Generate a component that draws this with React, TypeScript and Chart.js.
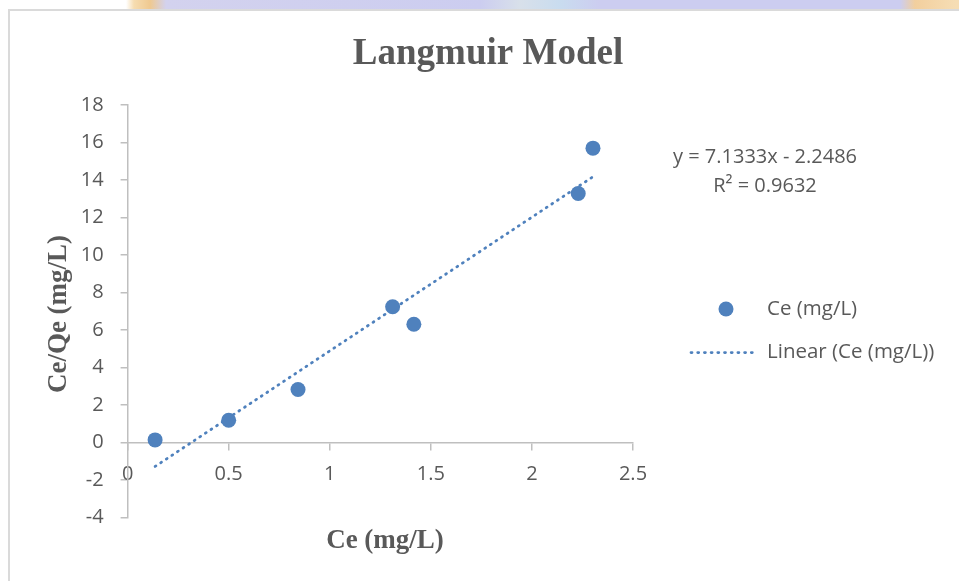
import React, { useEffect, useRef } from "react";
import { Chart, registerables } from "chart.js";

Chart.register(...registerables);

// ---- data ----
const TITLE = "Langmuir Model";
const X_TITLE = "Ce (mg/L)";
const Y_TITLE = "Ce/Qe (mg/L)";
const SERIES_NAME = "Ce (mg/L)";
const TREND_NAME = "Linear (Ce (mg/L))";

const CE = [0.136, 0.5, 0.843, 1.311, 1.416, 2.229, 2.302];
const CE_QE = [0.14, 1.19, 2.83, 7.24, 6.31, 13.28, 15.7];

// trendline as printed on the chart
const SLOPE = 7.1333;
const INTERCEPT = -2.2486;
const R2 = "0.9632";

const X_TICKS = [0, 0.5, 1, 1.5, 2, 2.5];
const Y_TICKS = [-4, -2, 0, 2, 4, 6, 8, 10, 12, 14, 16, 18];

// ---- styles ----
const BLUE = "#4f81bd";
const TEXT = "#595959";
const AXIS = "#bfbfbf";
const SANS = "'Open Sans', 'Noto Sans', sans-serif";
const SERIF = "'Liberation Serif', 'DejaVu Serif', serif";

const W = 959;
const H = 581;

const textPlugin = {
  id: "excelText",
  afterDraw(chart: any) {
    const ctx = chart.ctx as CanvasRenderingContext2D;
    const ds = chart.data.datasets;
    ctx.save();
    ctx.fillStyle = TEXT;

    // title
    ctx.font = `bold 37px ${SERIF}`;
    ctx.textAlign = "center";
    ctx.textBaseline = "alphabetic";
    ctx.fillText(TITLE, 488, 64);

    // x axis title
    ctx.font = `bold 27px ${SERIF}`;
    ctx.fillText(X_TITLE, 385, 548);

    // y axis title
    ctx.save();
    ctx.translate(66, 314);
    ctx.rotate(-Math.PI / 2);
    ctx.fillText(Y_TITLE, 0, 0);
    ctx.restore();

    // trendline equation
    ctx.font = `20px ${SANS}`;
    ctx.textBaseline = "middle";
    const sign = INTERCEPT < 0 ? "-" : "+";
    ctx.fillText(`y = ${SLOPE}x ${sign} ${Math.abs(INTERCEPT)}`, 765, 157);
    ctx.fillText(`R\u00B2 = ${R2}`, 765, 186);

    // legend
    ctx.textAlign = "left";
    ctx.font = `20.5px ${SANS}`;
    ctx.fillStyle = BLUE;
    ctx.beginPath();
    ctx.arc(726, 309, 7.5, 0, Math.PI * 2);
    ctx.fill();
    ctx.fillStyle = TEXT;
    ctx.fillText(ds[0].label, 767, 309);

    ctx.strokeStyle = BLUE;
    ctx.lineWidth = 2.75;
    ctx.lineCap = "round";
    ctx.setLineDash([1, 5.7]);
    ctx.beginPath();
    ctx.moveTo(691, 352.5);
    ctx.lineTo(757, 352.5);
    ctx.stroke();
    ctx.setLineDash([]);
    ctx.fillText(ds[1].label, 767, 352);

    ctx.restore();
  },
};

export default function App() {
  const ref = useRef<HTMLCanvasElement | null>(null);

  useEffect(() => {
    if (!ref.current) return;
    const points = CE.map((x, i) => ({ x, y: CE_QE[i] }));
    const xMin = Math.min(...CE);
    const xMax = Math.max(...CE);
    const trend = [
      { x: xMin, y: SLOPE * xMin + INTERCEPT },
      { x: xMax, y: SLOPE * xMax + INTERCEPT },
    ];

    const chart = new Chart(ref.current, {
      type: "scatter",
      data: {
        datasets: [
          {
            type: "scatter",
            label: SERIES_NAME,
            data: points,
            pointRadius: 7.5,
            pointHoverRadius: 7.5,
            pointBackgroundColor: BLUE,
            pointBorderWidth: 0,
            backgroundColor: BLUE,
            borderColor: BLUE,
            clip: false,
          } as any,
          {
            type: "line",
            label: TREND_NAME,
            data: trend,
            showLine: true,
            borderColor: BLUE,
            borderWidth: 2.75,
            borderDash: [1, 5.7],
            borderCapStyle: "round",
            pointRadius: 0,
            fill: false,
            tension: 0,
            clip: false,
          } as any,
        ],
      },
      options: {
        responsive: false,
        animation: false,
        events: [],
        layout: { padding: { left: 8, top: 105, right: 326, bottom: 63.5 } },
        plugins: {
          legend: { display: false },
          title: { display: false },
          tooltip: { enabled: false },
        },
        scales: {
          x: {
            type: "linear",
            position: { y: 0 } as any,
            min: 0,
            max: 2.5,
            afterBuildTicks: (s: any) => {
              s.ticks = X_TICKS.map((v) => ({ value: v }));
            },
            ticks: {
              color: TEXT,
              font: { family: SANS, size: 20 },
              padding: 13,
              maxRotation: 0,
              autoSkip: false,
              callback: (v: any) => String(v),
            },
            grid: {
              drawOnChartArea: false,
              drawTicks: true,
              tickLength: 7,
              color: AXIS,
              lineWidth: 1.5,
            },
            border: { display: true, color: AXIS, width: 1.5 },
          },
          y: {
            type: "linear",
            position: "left",
            min: -4,
            max: 18,
            afterBuildTicks: (s: any) => {
              s.ticks = Y_TICKS.map((v) => ({ value: v }));
            },
            afterFit: (s: any) => {
              s.width = 119.6;
            },
            ticks: {
              color: TEXT,
              font: { family: SANS, size: 20 },
              padding: 17,
              autoSkip: false,
              callback: (v: any) => String(v),
            },
            grid: {
              drawOnChartArea: false,
              drawTicks: true,
              tickLength: 7,
              color: AXIS,
              lineWidth: 1.5,
            },
            border: { display: true, color: AXIS, width: 1.5 },
          },
        },
      },
      plugins: [textPlugin],
    });
    return () => chart.destroy();
  }, []);

  return (
    <div
      style={{
        position: "fixed",
        left: 0,
        top: 0,
        width: W,
        height: H,
        background: "#ffffff",
        overflow: "hidden",
      }}
    >
      <div
        style={{
          position: "absolute",
          left: 0,
          top: 0,
          width: W,
          height: 10,
          background:
            "linear-gradient(to right, #ffffff 0px, #ffffff 126px, #f6dcb0 134px, #efc990 150px, #d3d2ee 166px, #cccdf0 480px, #d8e0ea 520px, #c9dcef 560px, #cccdf0 600px, #cccdf0 900px, #f2cf9e 915px, #f6ddb4 955px)",
        }}
      />
      <div
        style={{
          position: "absolute",
          left: 8,
          top: 9,
          width: 1000,
          height: 620,
          border: "2px solid #dadada",
          background: "#ffffff",
        }}
      />
      <canvas
        ref={ref}
        width={W}
        height={H}
        style={{ position: "absolute", left: 0, top: 0, width: W, height: H }}
      />
    </div>
  );
}
